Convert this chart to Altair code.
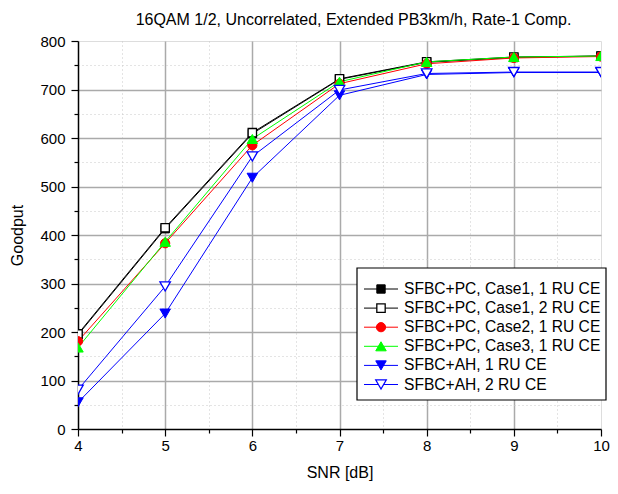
import altair as alt
import pandas as pd

snr = [4, 5, 6, 7, 8, 9, 10]
names = [
    "SFBC+PC, Case1, 1 RU CE",
    "SFBC+PC, Case1, 2 RU CE",
    "SFBC+PC, Case2, 1 RU CE",
    "SFBC+PC, Case3, 1 RU CE",
    "SFBC+AH, 1 RU CE",
    "SFBC+AH, 2 RU CE",
]
case1_1ru = [194, 413, 609, 721, 756, 766, 769]
case1_2ru = [196, 415, 611, 722, 757, 767, 769]
case2_1ru = [181, 383, 585, 712, 753, 765, 768]
case3_1ru = [168, 386, 598, 716, 757, 767, 769]
ah_1ru = [55, 238, 518, 688, 731, 735, 735]
ah_2ru = [81, 294, 562, 699, 733, 736, 736]
series_vals = [case1_1ru, case1_2ru, case2_1ru, case3_1ru, ah_1ru, ah_2ru]

colors = ["#000000", "#000000", "#ff0000", "#00ff00", "#0000ff", "#0000ff"]
shapes = ["square", "square", "circle", "triangle-up", "triangle-down", "triangle-down"]
filled = [True, False, True, True, True, False]
sizes = [70, 70, 85, 110, 110, 110]

FONT = "Liberation Sans"
W, H = 523, 388

xticks = [4 + 0.5 * i for i in range(13)]
yticks = list(range(0, 801, 50))

x_axis = alt.Axis(
    values=xticks,
    labelExpr="datum.value % 1 === 0 ? format(datum.value, 'd') : ''",
    labelFlush=False,
    title="SNR [dB]",
    titleFont=FONT, titleFontSize=16, titleFontWeight="normal", titleColor="black",
    titlePadding=11,
    labelFont=FONT, labelFontSize=15, labelColor="black", labelPadding=2,
    domainColor="black", domainWidth=1.5,
    tickColor="black", tickWidth=1.2,
    tickSize={"condition": {"test": "datum.value % 1 === 0", "value": 7}, "value": 4},
    grid=True,
    gridColor={"condition": {"test": "datum.value % 1 === 0", "value": "#aaaaaa"}, "value": "#c8c8c8"},
    gridDash={"condition": {"test": "datum.value % 1 === 0", "value": []}, "value": [1, 3]},
    gridWidth={"condition": {"test": "datum.value % 1 === 0", "value": 1.5}, "value": 1},
    gridOpacity={"condition": {"test": "datum.value === 10 || datum.value === 4", "value": 0}, "value": 1},
)
y_axis = alt.Axis(
    values=yticks,
    labelExpr="datum.value % 100 === 0 ? datum.label : ''",
    labelFlush=False,
    title="Goodput",
    titleFont=FONT, titleFontSize=16, titleFontWeight="normal", titleColor="black",
    titlePadding=14,
    labelFont=FONT, labelFontSize=15, labelColor="black", labelPadding=6,
    domainColor="black", domainWidth=1.5,
    tickColor="black", tickWidth=1.2,
    tickSize={"condition": {"test": "datum.value % 100 === 0", "value": 7}, "value": 4},
    grid=True,
    gridColor={"condition": {"test": "datum.value % 100 === 0", "value": "#aaaaaa"}, "value": "#c8c8c8"},
    gridDash={"condition": {"test": "datum.value % 100 === 0", "value": []}, "value": [1, 3]},
    gridWidth={"condition": {"test": "datum.value % 100 === 0", "value": 1.5}, "value": 1},
    gridOpacity={"condition": {"test": "datum.value === 800 || datum.value === 0", "value": 0}, "value": 1},
)

xs = alt.Scale(domain=[4, 10], nice=False, zero=False)
ys = alt.Scale(domain=[0, 800], nice=False)

X = alt.X("SNR:Q", scale=xs, axis=x_axis)
Y = alt.Y("Goodput:Q", scale=ys, axis=y_axis)

layers = []
for i, name in enumerate(names):
    df = pd.DataFrame({"SNR": snr, "Goodput": series_vals[i]})
    layers.append(
        alt.Chart(df).mark_line(color=colors[i], strokeWidth=1, clip=True).encode(x=X, y=Y)
    )

for i, name in enumerate(names):
    df = pd.DataFrame({"SNR": snr, "Goodput": series_vals[i]})
    layers.append(
        alt.Chart(df).mark_point(
            shape=shapes[i], size=sizes[i], filled=True, clip=True,
            fill=colors[i] if filled[i] else "white",
            stroke=colors[i], strokeWidth=1 if filled[i] else 1.3,
            opacity=1,
        ).encode(x=X, y=Y)
    )

# custom legend (pixel layout inside the plot area)
lx0, ly0, lx1, ly1 = 279, 227, 528, 359
row_y0, row_dy = 248, 19.1
line_x0, line_x1, mark_x, text_x = 286, 320, 303, 326

legend_df = pd.DataFrame({"dummy": [0]})
layers.append(
    alt.Chart(legend_df).mark_rect(fill="white", stroke="black", strokeWidth=1.2).encode(
        x=alt.value(lx0), x2=alt.value(lx1), y=alt.value(ly0), y2=alt.value(ly1)
    )
)
for i, name in enumerate(names):
    yy = row_y0 + i * row_dy
    layers.append(
        alt.Chart(legend_df).mark_rule(color=colors[i], strokeWidth=1).encode(
            x=alt.value(line_x0), x2=alt.value(line_x1), y=alt.value(yy)
        )
    )
    layers.append(
        alt.Chart(legend_df).mark_point(
            shape=shapes[i], size=sizes[i], filled=True,
            fill=colors[i] if filled[i] else "white",
            stroke=colors[i], strokeWidth=1 if filled[i] else 1.3, opacity=1,
        ).encode(x=alt.value(mark_x), y=alt.value(yy))
    )
    layers.append(
        alt.Chart(legend_df).mark_text(
            text=name, align="left", baseline="middle", font=FONT, fontSize=15.6, color="black"
        ).encode(x=alt.value(text_x), y=alt.value(yy))
    )

chart = alt.layer(*layers).properties(
    width=W, height=H,
    title=alt.TitleParams(
        "16QAM 1/2, Uncorrelated, Extended PB3km/h, Rate-1 Comp.",
        font=FONT, fontSize=16, fontWeight="normal", color="black",
        anchor="middle", dx=14, offset=6,
    ),
    autosize=alt.AutoSizeParams(type="none"),
    padding={"left": 70, "top": 33, "right": 9, "bottom": 57},
).configure_view(stroke=None).configure(background="white")

chart.save("out.html", embed_options={"renderer": "svg", "actions": False})
